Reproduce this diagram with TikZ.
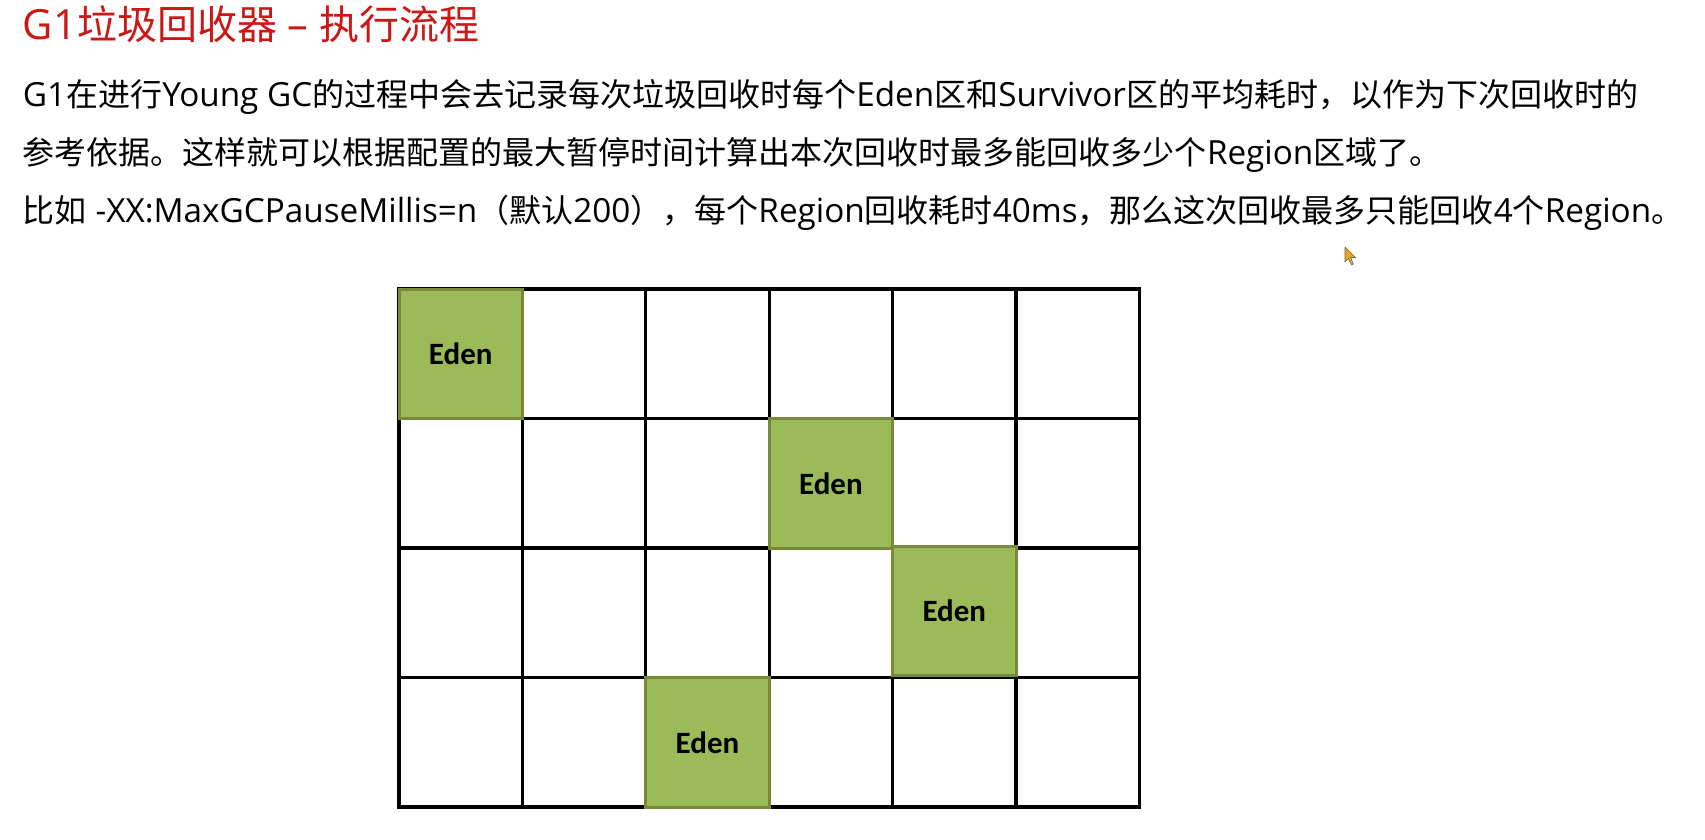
\documentclass[tikz,border=0pt]{standalone}
\usepackage{fontspec}
\setmainfont{Noto Sans CJK SC}
\newfontfamily\lat[Scale=1.04]{Open Sans}
\newfontfamily\edenfont{Carlito}
\definecolor{titlered}{RGB}{205,22,22}
\definecolor{edengreen}{RGB}{155,187,89}
\definecolor{edenborder}{RGB}{118,138,58}
\definecolor{cursoryellow}{RGB}{232,170,20}
\tikzset{
  txt/.style={anchor=base west, inner sep=0pt, outer sep=0pt, text=black, font=\fontsize{32}{38}\selectfont},
  titletxt/.style={txt, text=titlered, font=\fontsize{40}{48}\selectfont},
  gridline/.style={line width=3.3pt, draw=black, line cap=rect},
  edenbox/.style={draw=edenborder, fill=edengreen, line width=3pt, minimum width=123.4pt, minimum height=129.5pt, inner sep=0pt, font=\edenfont\bfseries\fontsize{31}{31}\selectfont}
}
\begin{document}
\begin{tikzpicture}[x=1pt,y=-1pt]
\useasboundingbox (0,0) rectangle (1705,839);
\fill[white] (0,0) rectangle (1705,839);
% texts
\node[titletxt] (title) at (23,39) {{\lat G1}垃圾回收器{\lat\space–\space}执行流程};
\node[txt] (l1) at (23,106) {{\lat G1}在进行{\lat Young GC}的过程中会去记录每次垃圾回收时每个{\lat Eden}区和{\lat Survivor}区的平均耗时，以作为下次回收时的};
\node[txt] (l2) at (23,164) {参考依据。这样就可以根据配置的最大暂停时间计算出本次回收时最多能回收多少个{\lat Region}区域了。};
\node[txt] (l3) at (23,222) {比如{\lat\space-XX:MaxGCPauseMillis=n}（默认{\lat 200}），每个{\lat Region}回收耗时{\lat 40ms}，那么这次回收最多只能回收{\lat 4}个{\lat Region}。};
% grid
\foreach \i in {0,...,6} {
  \draw[gridline] ({399+\i*123.4},289) -- ({399+\i*123.4},807);
}
\foreach \j in {0,...,4} {
  \draw[gridline] (399,{289+\j*129.5}) -- (1139.4,{289+\j*129.5});
}
% Eden regions
\node[edenbox] (e1) at (460.7,353.75) {Eden};
\node[edenbox] (e2) at (830.9,483.25) {Eden};
\node[edenbox] (e3) at (954.3,611) {Eden};
\node[edenbox] (e4) at (707.5,742.25) {Eden};
% mouse cursor
\filldraw[fill=cursoryellow, draw=black!60, line width=0.6pt, line join=round]
  (1345,247) -- (1345,262) -- (1348.5,258.5) -- (1351.5,265) -- (1353.5,264) -- (1350.5,257.5) -- (1355.5,257.5) -- cycle;
\end{tikzpicture}
\end{document}
